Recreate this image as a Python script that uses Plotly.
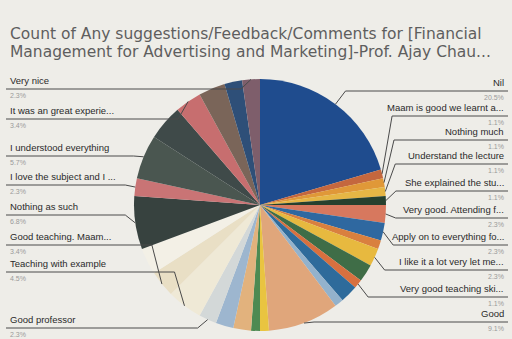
import math
import plotly.graph_objects as go

W, H = 512, 339
title_lines = ["Count of Any suggestions/Feedback/Comments for [Financial",
               "Management for Advertising and Marketing]-Prof. Ajay Chau..."]

# slices in clockwise order from 12 o'clock
names = [
    "Nil", "Maam is good we learnt a...", "Nothing much", "Understand the lecture",
    "She explained the stu...", "Very good. Attending f...", "Apply on to everything fo...",
    "Practical examples", "I like it a lot very let me...", "Interesting", "Very good teaching ski...",
    "Nice", "Helpful", "Good", "Excellent", "Fine", "Well explained", "Clear concepts",
    "Good professor", "Teaching with example", "Good teaching. Maam...", "Best faculty",
    "Nothing as such", "I love the subject and I ...", "I understood everything",
    "Awesome", "It was an great experie...", "Very informative", "Enjoyed", "Very nice",
]
counts = [18, 1, 1, 1, 1, 2, 2, 1, 2, 2, 1, 2, 1, 8, 1, 1, 2, 2, 2, 4, 3, 3, 6, 2, 5, 4, 3, 3, 2, 2]
colors = [
    "#1f4c8e", "#c4673e", "#e09838", "#e6b645", "#26402e", "#d7785e", "#2f68a0",
    "#d9803f", "#e7b93f", "#3f6d47", "#d8703f", "#2e6b9b", "#93b2cc", "#e0a67b",
    "#e9c440", "#4e8a52", "#e2b27d", "#9db6cf", "#d3d8d8", "#efe9d6", "#e9dfc5", "#f3f0e6",
    "#37423f", "#c97475", "#4a5650", "#3f4a49", "#c76e6f", "#7a6559", "#2e4f78", "#7e5e6b",
]
left_labels = ["Very nice", "It was an great experie...", "I understood everything",
               "I love the subject and I ...", "Nothing as such", "Good teaching. Maam...",
               "Teaching with example", "Good professor"]
left_line_y = [89, 119, 156, 185, 215, 245, 272, 328]
right_labels = ["Nil", "Maam is good we learnt a...", "Nothing much", "Understand the lecture",
                "She explained the stu...", "Very good. Attending f...",
                "Apply on to everything fo...", "I like it a lot very let me...",
                "Very good teaching ski...", "Good"]
right_line_y = [91, 116, 140, 164, 191, 218, 245, 270, 297, 322]

cx, cy, R = 260, 205, 126
total = sum(counts)
fig = go.Figure(go.Pie(
    labels=names, values=counts, sort=False, direction="clockwise", rotation=0,
    marker=dict(colors=colors, line=dict(width=0)), textinfo="none", hoverinfo="label+percent",
    domain=dict(x=[(cx - R) / W, (cx + R) / W], y=[1 - (cy + R) / H, 1 - (cy - R) / H]),
    showlegend=False,
))

# mid angles
mid = {}
acc = 0
for n, c in zip(names, counts):
    mid[n] = (acc + c / 2) / total * 360
    acc += c

def px(x):
    return x / W

def py(y):
    return 1 - y / H

annotations = []
shapes = []
FONT = "Liberation Sans, Arial"

def add_label(name, ly, side):
    th = math.radians(mid[name])
    ex = cx + R * math.sin(th)
    ey = cy - R * math.cos(th)
    pct = counts[names.index(name)] / total * 100
    if side == "left":
        x0, elbow, anchor, tx = 6, ex - 10, "left", 8
    else:
        x0, elbow, anchor, tx = 508, ex + 10, "right", 506
    path = f"M {px(x0)} {py(ly)} L {px(elbow)} {py(ly)} L {px(ex)} {py(ey)}"
    shapes.append(dict(type="path", path=path, xref="paper", yref="paper",
                       line=dict(color="#4a4a4a", width=1)))
    annotations.append(dict(x=px(tx), y=py(ly - 1), xref="paper", yref="paper",
                            text=name, showarrow=False, xanchor=anchor, yanchor="bottom",
                            font=dict(family=FONT, size=9.5, color="#2a2a2a")))
    annotations.append(dict(x=px(tx), y=py(ly + 1), xref="paper", yref="paper",
                            text=f"{pct:.1f}%", showarrow=False, xanchor=anchor, yanchor="top",
                            font=dict(family=FONT, size=7, color="#9a9a9a")))

for n, y in zip(left_labels, left_line_y):
    add_label(n, y, "left")
for n, y in zip(right_labels, right_line_y):
    add_label(n, y, "right")

for txt, yc in zip(title_lines, [34, 52]):
    annotations.append(dict(x=px(8), y=py(yc), xref="paper", yref="paper", text=txt,
                            showarrow=False, xanchor="left", yanchor="middle",
                            font=dict(family="DejaVu Sans, Arial", size=15.5, color="#5e5e5e")))

fig.update_layout(
    width=W, height=H, margin=dict(l=0, r=0, t=0, b=0),
    paper_bgcolor="#eeede8", plot_bgcolor="#eeede8",
    annotations=annotations, shapes=shapes,
)
fig.write_html("out.html", post_script="document.body.style.margin='0';",
               config={"displayModeBar": False})
